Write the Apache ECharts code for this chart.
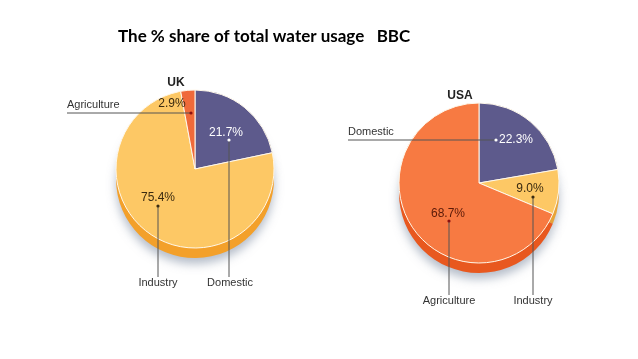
<!DOCTYPE html>
<html>
<head>
<meta charset="utf-8">
<script src="https://cdn.jsdelivr.net/npm/echarts@6/dist/echarts.min.js"></script>
<style>
html,body{margin:0;padding:0;background:#fff;}
#c{width:638px;height:359px;}
</style>
</head>
<body>
<div id="c"></div>
<script>
// ---- data ----
const chartTitle = 'The % share of total water usage   BBC';
const pieNames = ['UK', 'USA'];
const categories = ['Domestic', 'Industry', 'Agriculture'];
const ukValues = [21.7, 75.4, 2.9];
const usaValues = [22.3, 9.0, 68.7];

// ---- styling / layout ----
const faceColors = {
  UK: ['#5d5a8c', '#fdc865', '#ef6a3a'],
  USA: ['#5d5a8c', '#fdc865', '#f77a42']
};
const sideColors = {
  UK: ['#46436e', '#f3a02a', '#d0522a'],
  USA: ['#46436e', '#e9a437', '#e8581f']
};
const geom = {
  UK: { center: [195, 169], r: 79, title: [171, 79] },
  USA: { center: [479, 183], r: 80, title: [455, 92] }
};
// label placement: per category index
const nameLayout = {
  UK: [
    { x: 230, y: 283, align: 'center', line: [[229, 140], [229, 200], [229, 277]] },
    { x: 158, y: 283, align: 'center', line: [[158, 206], [158, 240], [158, 277]] },
    { x: 67, y: 105, align: 'left', line: [[191, 113], [120, 113], [67, 113]] }
  ],
  USA: [
    { x: 348, y: 132, align: 'left', line: [[496, 140], [420, 140], [348, 140]] },
    { x: 533, y: 301, align: 'center', line: [[533, 197], [533, 250], [533, 295]] },
    { x: 449, y: 301, align: 'center', line: [[449, 221], [449, 260], [449, 295]] }
  ]
};
const pctLayout = {
  UK: [
    { x: 226, y: 133, color: '#ffffff' },
    { x: 158, y: 198, color: '#3a2a10' },
    { x: 172, y: 104, color: '#3a2a10' }
  ],
  USA: [
    { x: 516, y: 140, color: '#ffffff' },
    { x: 530, y: 189, color: '#3a2a10' },
    { x: 448, y: 214, color: '#5a1a08' }
  ]
};
const dotColors = {
  UK: ['#ffffff', '#3a2a10', '#8a1010'],
  USA: ['#ffffff', '#3a2a10', '#8a1010']
};

const valuesBy = { UK: ukValues, USA: usaValues };
const FONT = '"Liberation Sans", Arial, sans-serif';

const chart = echarts.init(document.getElementById('c'), null, { renderer: 'canvas' });

const series = [];
const graphics = [];
pieNames.forEach(function (name) {
  const g = geom[name];
  const vals = valuesBy[name];
  const dataFace = categories.map(function (c, i) {
    return { name: c, value: vals[i], itemStyle: { color: faceColors[name][i] },
             label: { color: pctLayout[name][i].color } };
  });
  const dataSide = categories.map(function (c, i) {
    return { name: c, value: vals[i], itemStyle: { color: sideColors[name][i] } };
  });
  // side / thickness with shadow
  series.push({
    type: 'pie', name: name + '-side', silent: true, animation: false,
    center: [g.center[0], g.center[1] + 10], radius: g.r,
    startAngle: 90, clockwise: true, label: { show: false }, labelLine: { show: false },
    itemStyle: { borderWidth: 0, shadowBlur: 10, shadowOffsetY: 6, shadowColor: 'rgba(110,125,150,0.5)' },
    data: dataSide, z: 1
  });
  // top face with percentage labels
  series.push({
    type: 'pie', name: name, silent: true, animation: false,
    center: g.center, radius: g.r, startAngle: 90, clockwise: true,
    avoidLabelOverlap: false,
    itemStyle: { borderColor: '#fff8ea', borderWidth: 1 },
    label: {
      show: true, position: 'inside', fontFamily: FONT, fontSize: 12,
      formatter: function (p) { return p.value.toFixed(1) + '%'; }
    },
    labelLine: { show: false },
    labelLayout: function (p) {
      const L = pctLayout[name][p.dataIndex];
      return { x: L.x, y: L.y, align: 'center', verticalAlign: 'middle' };
    },
    data: dataFace, z: 2
  });
  // category labels with leader lines (transparent overlay)
  series.push({
    type: 'pie', name: name + '-names', silent: true, animation: false,
    center: g.center, radius: g.r, startAngle: 90, clockwise: true,
    avoidLabelOverlap: false,
    itemStyle: { color: 'rgba(0,0,0,0)', borderWidth: 0 },
    label: { show: true, position: 'outside', formatter: '{b}', fontFamily: FONT, fontSize: 11, color: '#333333' },
    labelLine: { show: true, lineStyle: { color: '#555555', width: 1 } },
    labelLayout: function (p) {
      const L = nameLayout[name][p.dataIndex];
      return { x: L.x, y: L.y, align: L.align, verticalAlign: 'middle', labelLinePoints: L.line };
    },
    data: categories.map(function (c, i) { return { name: c, value: vals[i] }; }),
    z: 3
  });
  // leader-line end dots
  nameLayout[name].forEach(function (L, i) {
    graphics.push({
      type: 'circle', silent: true, z: 100,
      shape: { cx: L.line[0][0], cy: L.line[0][1], r: 1.6 },
      style: { fill: dotColors[name][i] }
    });
  });
});

const titles = [{
  text: chartTitle, left: 113, top: 23,
  textStyle: { fontFamily: 'Lato, "Open Sans", sans-serif', fontWeight: 'bold', fontSize: 17, color: '#000' }
}];
pieNames.forEach(function (name) {
  const t = geom[name].title;
  titles.push({
    text: name, left: t[0], top: t[1] - 7, textAlign: 'center',
    textStyle: { fontFamily: FONT, fontWeight: 'bold', fontSize: 12, color: '#222' }
  });
});

chart.setOption({
  backgroundColor: '#ffffff',
  animation: false,
  title: titles,
  series: series,
  graphic: graphics
});
</script>
</body>
</html>
